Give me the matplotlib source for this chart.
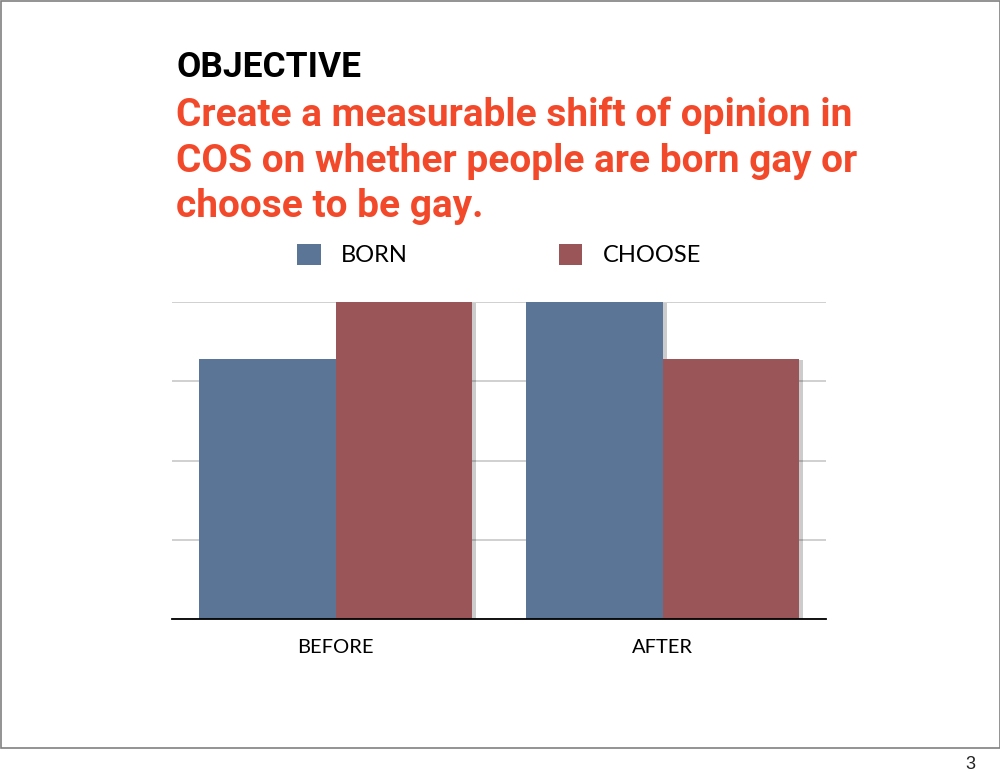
import matplotlib.pyplot as plt
import matplotlib.patheffects as pe
from matplotlib.patches import Rectangle
import numpy as np

# chart data (relative heights, top gridline = 100)
categories = ["BEFORE", "AFTER"]
born = [82, 100]
choose = [100, 82]
series_names = ["BORN", "CHOOSE"]

title = "OBJECTIVE"
subtitle_lines = ["Create a measurable shift of opinion in",
                  "COS on whether people are born gay or",
                  "choose to be gay."]

blue = "#5b7597"
red = "#9a5558"
orange = "#f2492b"
head = ["Roboto", "Liberation Sans", "DejaVu Sans"]
gill = ["Lato", "DejaVu Sans"]

H = 777
fig = plt.figure(figsize=(10, 7.77), dpi=100)

def fy(py):
    return 1 - py / H

# slide frame + footer line
fig.add_artist(Rectangle((0.0005, fy(748)), 0.999, 748 / H - 0.001,
                         transform=fig.transFigure, fill=False, edgecolor="#808080", lw=1.2))
fig.text(0.975, fy(769), "3", ha="right", va="baseline", fontsize=13,
         family=["Liberation Sans", "DejaVu Sans"], color="#222222")

# title block
fig.text(0.176, fy(77), title, ha="left", va="baseline", fontsize=25.5,
         weight="bold", family=head, color="black")
for line, base in zip(subtitle_lines, [126, 172, 217]):
    fig.text(0.176, fy(base), line, ha="left", va="baseline", fontsize=28,
             weight="bold", family=head, color=orange)

ax = fig.add_axes([0.172, fy(619), 0.654, 317 / H])
x = np.arange(len(categories))
w = 0.416
shadow = [pe.SimplePatchShadow(offset=(3, -1), alpha=0.2, shadow_rgbFace="black"), pe.Normal()]
b1 = ax.bar(x - w / 2, born, w, color=blue, label=series_names[0], zorder=3)
b2 = ax.bar(x + w / 2, choose, w, color=red, label=series_names[1], zorder=3)
for bar in list(b1) + list(b2):
    bar.set_path_effects(shadow)

ax.set_xlim(-0.5, 1.5)
ax.set_ylim(0, 100)
ax.set_yticks([0, 25, 50, 75, 100])
ax.yaxis.grid(True, color="#c8c8c8", lw=1.2, zorder=0)
ax.set_yticklabels([])
ax.tick_params(left=False, bottom=False)
ax.set_xticks(x)
ax.set_xticklabels(categories, fontsize=14.5, family=gill)
ax.tick_params(axis="x", pad=11)
for s in ["top", "left", "right"]:
    ax.spines[s].set_visible(False)
ax.spines["bottom"].set_linewidth(1.3)
ax.spines["bottom"].set_zorder(4)

leg = ax.legend(loc="lower center", bbox_to_anchor=(0.5, 1.045), ncol=2, frameon=False,
                prop={"family": gill, "size": 17}, handlelength=1.0, handleheight=1.0,
                columnspacing=6.4, handletextpad=0.85)
for h in leg.legend_handles:
    h.set_path_effects([])

fig.savefig("out.png", dpi=100)
